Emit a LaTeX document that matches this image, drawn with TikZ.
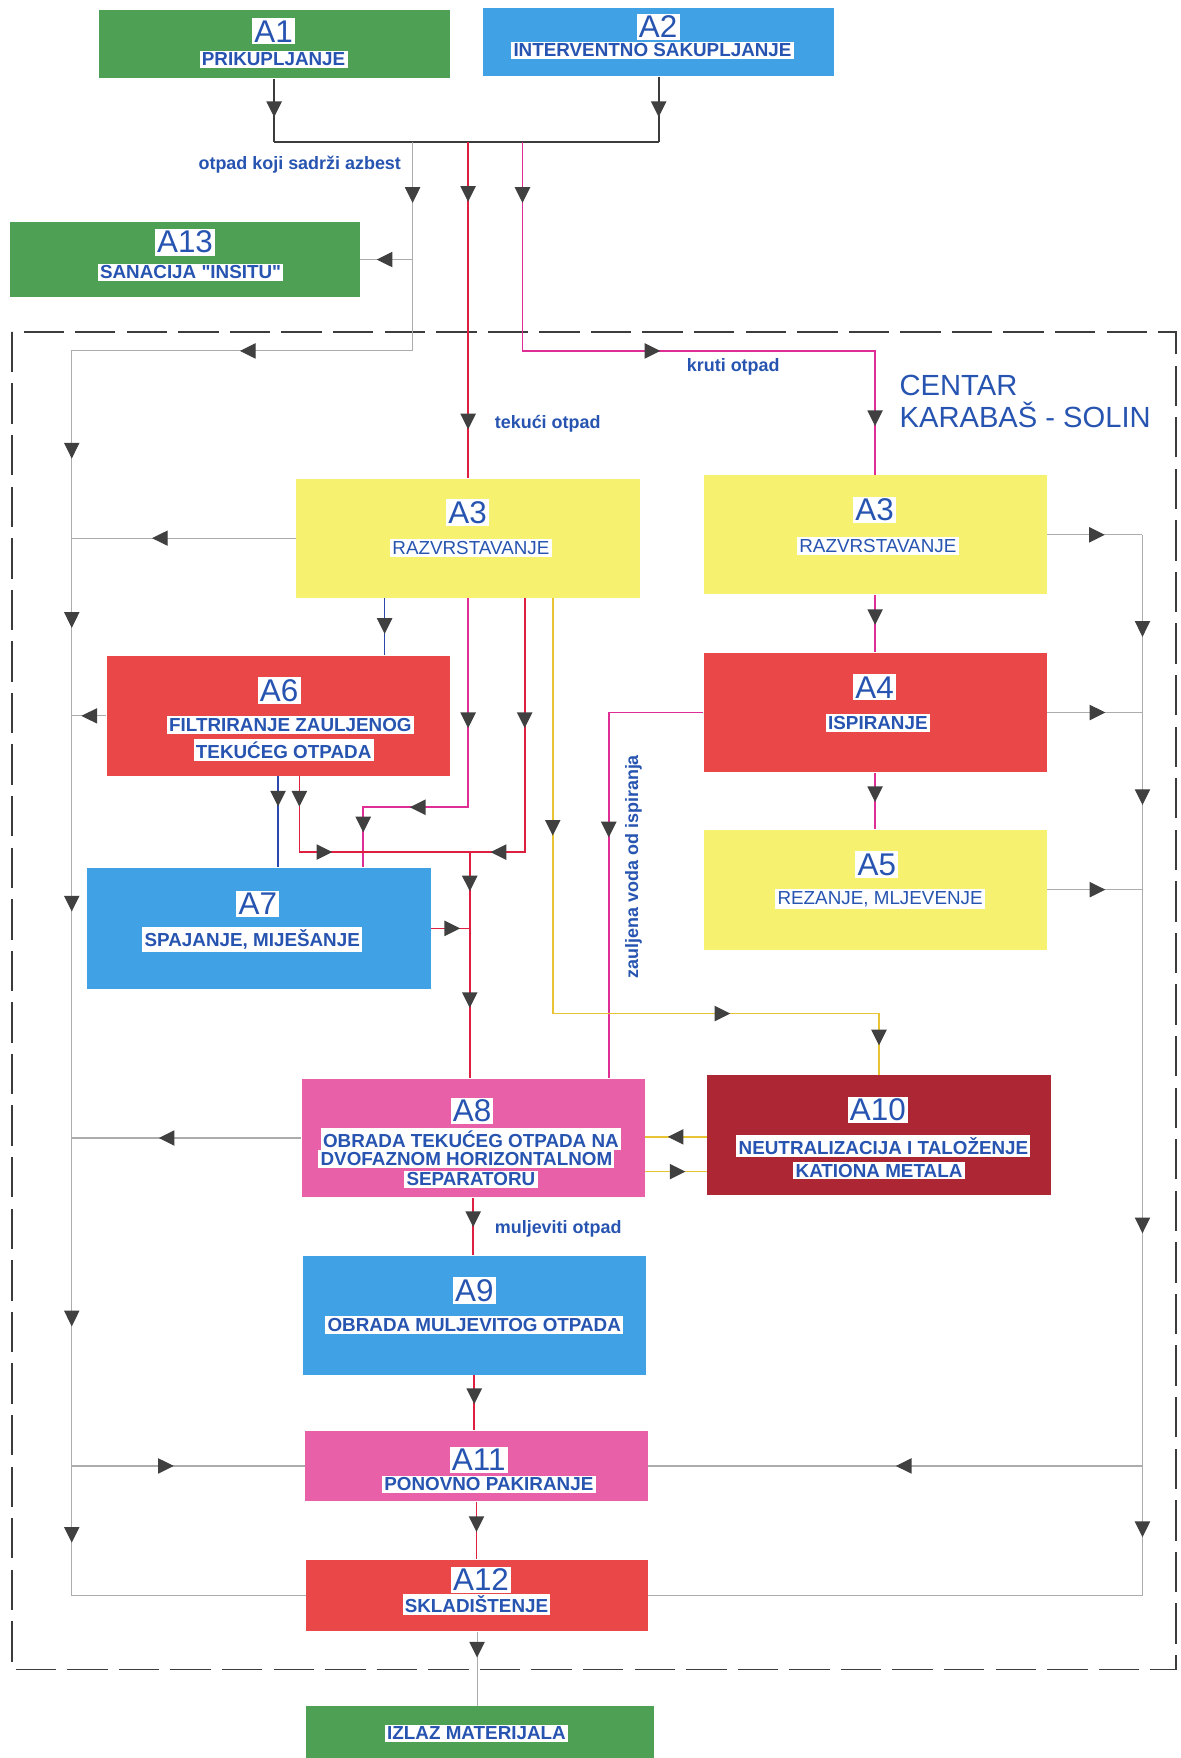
\documentclass[tikz,border=0pt]{standalone}
\usepackage{fontspec}
\setmainfont{Liberation Sans}[Ligatures=TeXOff]
\usetikzlibrary{arrows.meta,decorations.markings}
\definecolor{gfill}{RGB}{78,160,84}
\definecolor{bfill}{RGB}{64,162,228}
\definecolor{yfill}{RGB}{247,241,112}
\definecolor{rfill}{RGB}{234,72,72}
\definecolor{pfill}{RGB}{232,96,168}
\definecolor{dfill}{RGB}{172,38,52}
\definecolor{tblue}{RGB}{38,84,176}
\definecolor{arrc}{RGB}{64,64,64}
\definecolor{lgray}{RGB}{172,172,172}
\definecolor{lred}{RGB}{222,32,64}
\definecolor{lmag}{RGB}{222,46,150}
\definecolor{lyel}{RGB}{232,196,52}
\definecolor{lblu}{RGB}{44,72,172}
\definecolor{ldark}{RGB}{60,60,60}
\newcommand\mytip{\arrow{Triangle[width=6.8pt,length=7pt,color=arrc,fill=arrc]}}
\begin{document}
\begin{tikzpicture}[x=0.5pt,y=-0.5pt,
  box/.style={rectangle, inner sep=0pt, draw=none},
  num/.style={fill=white, text=tblue, inner sep=1pt, font=\fontsize{14}{14}\selectfont},
  desc/.style={fill=white, text=tblue, inner sep=1pt, font=\bfseries\fontsize{8.4}{9}\selectfont},
  descr/.style={fill=white, text=tblue, inner sep=1pt, font=\fontsize{8.4}{9}\selectfont},
  lbl/.style={text=tblue, inner sep=0pt, font=\bfseries\fontsize{8}{9}\selectfont},
  gl/.style={draw=lgray, line width=0.5pt},
  rl/.style={draw=lred, line width=0.7pt},
  ml/.style={draw=lmag, line width=0.7pt},
  yl/.style={draw=lyel, line width=0.7pt},
  bl/.style={draw=lblu, line width=0.7pt},
  dl/.style={draw=ldark, line width=0.8pt},
  ar/.style={postaction={decorate,decoration={markings,mark=at position #1 with {\mytip}}}}
]
\useasboundingbox (0,0) rectangle (1053,1568);
\clip (0,0) rectangle (1053,1568);
\fill[white] (0,0) rectangle (1053,1568);

% frame
\draw[ldark, line width=0.8pt, dash pattern=on 18pt off 5pt] (11,296) rectangle (1049,1489);

% boxes
\node[box, fill=gfill, minimum width=156.5pt, minimum height=30.5pt] (A1) at (244.5,39.5) {};
\node[box, fill=bfill, minimum width=156.5pt, minimum height=30.5pt] (A2) at (587.5,37.5) {};
\node[box, fill=gfill, minimum width=156pt, minimum height=33.5pt] (A13) at (165,231.5) {};
\node[box, fill=yfill, minimum width=153.5pt, minimum height=53pt] (A3L) at (417.5,480) {};
\node[box, fill=yfill, minimum width=153pt, minimum height=53pt] (A3R) at (780.5,477) {};
\node[box, fill=rfill, minimum width=153pt, minimum height=53.5pt] (A6) at (248,638.5) {};
\node[box, fill=rfill, minimum width=153pt, minimum height=53.5pt] (A4) at (780.5,635.5) {};
\node[box, fill=yfill, minimum width=153pt, minimum height=53.5pt] (A5) at (780.5,793.5) {};
\node[box, fill=bfill, minimum width=153pt, minimum height=54pt] (A7) at (231,828) {};
\node[box, fill=pfill, minimum width=153pt, minimum height=53pt] (A8) at (422,1015) {};
\node[box, fill=dfill, minimum width=153pt, minimum height=53.5pt] (A10) at (784,1012.5) {};
\node[box, fill=bfill, minimum width=153pt, minimum height=53pt] (A9) at (423,1173) {};
\node[box, fill=pfill, minimum width=153pt, minimum height=31.5pt] (A11) at (425,1307.5) {};
\node[box, fill=rfill, minimum width=152.5pt, minimum height=32pt] (A12) at (425.5,1423) {};
\node[box, fill=gfill, minimum width=155pt, minimum height=26pt] (IZ) at (428,1548) {};

% coordinates
\coordinate (jn) at (0,127);
\coordinate (xg) at (368,127);
\coordinate (g1) at (368,313);
\coordinate (lx) at (64,313);
\coordinate (xr) at (417.5,127);
\coordinate (xm) at (466,127);
\coordinate (m1) at (466,313);
\coordinate (rx) at (1019,477);
\coordinate (xz) at (543,0);
\coordinate (xb) at (343,0);
\coordinate (mm) at (417.5,720);
\coordinate (mk) at (324,720);
\coordinate (rr) at (468,760);
\coordinate (jr) at (419,760);
\coordinate (x6) at (267,760);
\coordinate (xy) at (493,904);
\coordinate (y1) at (0,1014);
\coordinate (y2) at (0,1045);

% top collection
\draw[dl] (A1.south |- jn) -- (A2.south |- jn);
\draw[dl, ar=17pt] (A1.south) -- (A1.south |- jn);
\draw[dl, ar=18pt] (A2.south) -- (A2.south |- jn);

% gray asbestos route and left collector
\draw[gl, ar=27pt, ar=170pt, ar=293pt, ar=368.5pt, ar=495pt, ar=680pt, ar=776.5pt]
  (xg) -- (g1) -- (lx) -- (lx |- A12.west) -- (A12.west);
\draw[gl, ar=16pt] (xg |- A13.east) -- (A13.east);
\draw[gl, ar=64pt] (A3L.west) -- (A3L.west -| lx);
\draw[gl, ar=11pt] (A6.west) -- (A6.west -| lx);
\draw[gl, ar=63.5pt] (A8.west) -- (A8.west -| lx);
\draw[gl, ar=45.5pt] (A11.west -| lx) -- (A11.west);

% right collector
\draw[gl, ar=25.75pt] (A3R.east) -- (rx);
\draw[gl, ar=45.5pt, ar=120.5pt, ar=311.5pt, ar=447pt] (rx) -- (rx |- A12.east) -- (A12.east);
\draw[gl, ar=26pt] (A4.east) -- (A4.east -| rx);
\draw[gl, ar=26pt] (A5.east) -- (A5.east -| rx);
\draw[gl, ar=110pt] (A11.east -| rx) -- (A11.east);

% liquid waste
\draw[rl, ar=26.5pt, ar=128pt] (xr) -- (A3L.north);
% solid waste
\draw[ml, ar=27pt, ar=154.5pt, ar=283.75pt] (xm) -- (m1) -- (m1 -| A3R.north) -- (A3R.north);
\draw[ml, ar=13.5pt] (A3R.south) -- (A4.north);
\draw[ml, ar=13pt] (A4.south) -- (A5.north);
\draw[ml, ar=97.75pt] (A4.west) -- (A4.west -| xz) -- (A8.north -| xz);

% outputs of A3 left
\draw[bl, ar=16pt] (A3L.south -| xb) -- (A6.north -| xb);
\draw[ml, ar=58pt, ar=119.25pt, ar=151.25pt] (A3L.south) -- (mm) -- (mk) -- (A7.north -| mk);
\draw[rl, ar=58pt, ar=128.5pt] (A3L.south -| rr) -- (rr) -- (jr);
\draw[rl, ar=13.5pt, ar=48.5pt] (A6.south -| x6) -- (x6) -- (jr);
\draw[rl, ar=17.5pt, ar=69.5pt] (jr) -- (A8.north -| jr);
\draw[rl, ar=13pt] (A7.east) -- (A7.east -| jr);
\draw[bl, ar=13.5pt] (A6.south) -- (A6.south |- A7.north);
\draw[yl, ar=106pt, ar=264.5pt, ar=345pt] (A3L.south -| xy) -- (xy) -- (xy -| A10.north) -- (A10.north);
\draw[yl, ar=17.5pt] (A10.west |- y1) -- (A8.east |- y1);
\draw[yl, ar=18pt] (A8.east |- y2) -- (A10.west |- y2);

% lower chain
\draw[rl, ar=13pt] (A8.south) -- (A8.south |- A9.north);
\draw[rl, ar=13pt] (A9.south) -- (A9.south |- A11.north);
\draw[rl, ar=13.5pt] (A11.south) -- (A11.south |- A12.north);
\draw[gl, ar=11.5pt] (A12.south) -- (A12.south |- IZ.north);

% box texts
\node[num] (A1n) at (244,28) {A1};
\node[desc] (A1d) at (244,53) {PRIKUPLJANJE};
\node[num] (A2n) at (587,24) {A2};
\node[desc] (A2d) at (582,45) {INTERVENTNO SAKUPLJANJE};
\node[num] (A13n) at (165,216) {A13};
\node[desc] (A13d) at (170,243) {SANACIJA "INSITU"};
\node[num] (A3Ln) at (417,457) {A3};
\node[descr] (A3Ld) at (420,489) {RAZVRSTAVANJE};
\node[num] (A3Rn) at (780,455) {A3};
\node[descr] (A3Rd) at (783,487) {RAZVRSTAVANJE};
\node[num] (A6n) at (249,616) {A6};
\node[desc] (A6d) at (259,647) {FILTRIRANJE ZAULJENOG};
\node[desc] (A6e) at (253,669) {TEKUĆEG OTPADA};
\node[num] (A4n) at (780,613) {A4};
\node[desc] (A4d) at (783,645) {ISPIRANJE};
\node[num] (A5n) at (782,771) {A5};
\node[descr] (A5d) at (785,802) {REZANJE, MLJEVENJE};
\node[num] (A7n) at (230,806) {A7};
\node[desc] (A7d) at (225,838) {SPAJANJE, MIJEŠANJE};
\node[num] (A8n) at (421,991) {A8};
\node[desc] (A8d) at (420,1016) {OBRADA TEKUĆEG OTPADA NA};
\node[desc] (A8e) at (416,1034) {DVOFAZNOM HORIZONTALNOM};
\node[desc] (A8f) at (420,1052) {SEPARATORU};
\node[num] (A10n) at (783,990) {A10};
\node[desc] (A10d) at (788,1022) {NEUTRALIZACIJA I TALOŽENJE};
\node[desc] (A10e) at (784,1044) {KATIONA METALA};
\node[num] (A9n) at (423,1151) {A9};
\node[desc] (A9d) at (423,1182) {OBRADA MULJEVITOG OTPADA};
\node[num] (A11n) at (427,1302) {A11};
\node[desc] (A11d) at (436,1324) {PONOVNO PAKIRANJE};
\node[num] (A12n) at (429,1409) {A12};
\node[desc] (A12d) at (425,1431) {SKLADIŠTENJE};
\node[desc] (IZd) at (425,1546) {IZLAZ MATERIJALA};

% flow labels
\node[lbl, anchor=east] (Lazb) at (358,147) {otpad koji sadrži azbest};
\node[lbl, anchor=west] (Ltek) at (441,378) {tekući otpad};
\node[lbl] (Lkru) at (654,327) {kruti otpad};
\node[lbl, anchor=west] (Lmul) at (441,1096) {muljeviti otpad};
\node[lbl, rotate=90] (Lzau) at (565,773) {zauljena voda od ispiranja};
\node[text=tblue, inner sep=0pt, anchor=west, align=left, font=\fontsize{13}{14.5}\selectfont] (Lcen) at (802,358) {CENTAR\\KARABAŠ - SOLIN};
\end{tikzpicture}
\end{document}
